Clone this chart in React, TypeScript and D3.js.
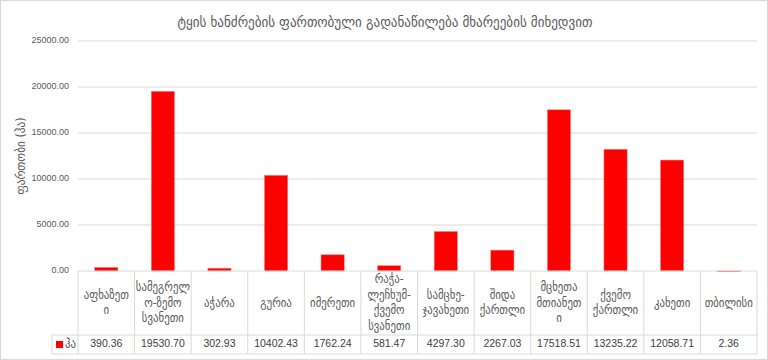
import React from "react";
import * as d3 from "d3";

const categories: string[][] = [
  ["აფხაზეთ", "ი"],
  ["სამეგრელ", "ო-ზემო", "სვანეთი"],
  ["აჭარა"],
  ["გურია"],
  ["იმერეთი"],
  ["რაჭა-", "ლეჩხუმ-", "ქვემო", "სვანეთი"],
  ["სამცხე-", "ჯავახეთი"],
  ["შიდა", "ქართლი"],
  ["მცხეთა", "მთიანეთ", "ი"],
  ["ქვემო", "ქართლი"],
  ["კახეთი"],
  ["თბილისი"],
];
const values: number[] = [390.36, 19530.7, 302.93, 10402.43, 1762.24, 581.47, 4297.3, 2267.03, 17518.51, 13235.22, 12058.71, 2.36];
const yTicks: number[] = [0, 5000, 10000, 15000, 20000, 25000];
const seriesName = "ჰა";
const title = "ტყის ხანძრების ფართობული გადანაწილება მხარეების მიხედვით";
const yTitle = "ფართობი (ჰა)";

const W = 768, H = 360;
const left = 78, right = 757, top = 41, bottom = 271;
const headRowBottom = 335, tableBottom = 354, legendLeft = 52;
const geo = "'DejaVu Sans Condensed', 'DejaVu Sans', sans-serif";
const num = "'Liberation Sans', Arial, sans-serif";

export default function App() {
  const idx = values.map((_, i) => String(i));
  const x = d3.scaleBand<string>().domain(idx).range([left, right]).padding(0);
  const y = d3.scaleLinear().domain([0, 25000]).range([bottom, top]);
  const bw = x.bandwidth();
  const barW = bw * 0.41;
  const fmt = d3.format(".2f");
  const lh = 15.5;
  const headMid = (bottom + headRowBottom) / 2;
  const valMid = (headRowBottom + tableBottom) / 2;
  const gridColor = "#d9d9d9";

  return (
    <svg width={W} height={H} style={{ position: "absolute", left: 0, top: 0, background: "#fff" }}>
      <rect x={0.5} y={0.5} width={W - 1} height={H - 1} fill="#fff" stroke={gridColor} />
      <text x={385} y={23} textAnchor="middle" dominantBaseline="middle" fontFamily={geo} fontSize={14.5} fill="#595959">
        {title}
      </text>
      <text
        transform={`translate(21,${(top + bottom) / 2}) rotate(-90)`}
        textAnchor="middle"
        dominantBaseline="middle"
        fontFamily={geo}
        fontSize={12.5}
        fill="#595959"
      >
        {yTitle}
      </text>
      {yTicks.map((t) => (
        <g key={t}>
          {t > 0 && <line x1={left} x2={right} y1={y(t)} y2={y(t)} stroke={gridColor} strokeWidth={1} />}
          <text x={69} y={y(t)} textAnchor="end" dominantBaseline="middle" fontFamily={num} fontSize={9} fill="#595959">
            {fmt(t)}
          </text>
        </g>
      ))}
      {values.map((v, i) => (
        <rect
          key={i}
          x={(x(String(i)) as number) + (bw - barW) / 2}
          y={y(v)}
          width={barW}
          height={Math.max(0.8, y(0) - y(v))}
          fill="#ff0000"
          stroke="#ff8080"
          strokeWidth={0.5}
        />
      ))}
      <line x1={left} x2={right} y1={bottom} y2={bottom} stroke={gridColor} />
      <line x1={legendLeft} x2={right} y1={headRowBottom} y2={headRowBottom} stroke={gridColor} />
      <line x1={legendLeft} x2={right} y1={tableBottom} y2={tableBottom} stroke={gridColor} />
      <line x1={legendLeft} x2={legendLeft} y1={headRowBottom} y2={tableBottom} stroke={gridColor} />
      {idx.map((k) => (
        <line key={k} x1={x(k) as number} x2={x(k) as number} y1={bottom} y2={tableBottom} stroke={gridColor} />
      ))}
      <line x1={right} x2={right} y1={bottom} y2={tableBottom} stroke={gridColor} />
      {categories.map((lines, i) => {
        const cx = (x(String(i)) as number) + bw / 2;
        const y0 = headMid - ((lines.length - 1) * lh) / 2;
        return (
          <text key={i} textAnchor="middle" fontFamily={geo} fontSize={12} fill="#595959">
            {lines.map((l, j) => (
              <tspan key={j} x={cx} y={y0 + j * lh} dominantBaseline="middle">
                {l}
              </tspan>
            ))}
          </text>
        );
      })}
      <rect x={56} y={valMid - 3.5} width={7} height={7} fill="#ff0000" />
      <text x={65} y={valMid} dominantBaseline="middle" fontFamily={geo} fontSize={12} fill="#595959">
        {seriesName}
      </text>
      {values.map((v, i) => (
        <text
          key={i}
          x={(x(String(i)) as number) + bw / 2}
          y={valMid}
          textAnchor="middle"
          dominantBaseline="middle"
          fontFamily={num}
          fontSize={10.5}
          fill="#404040"
        >
          {fmt(v)}
        </text>
      ))}
    </svg>
  );
}
